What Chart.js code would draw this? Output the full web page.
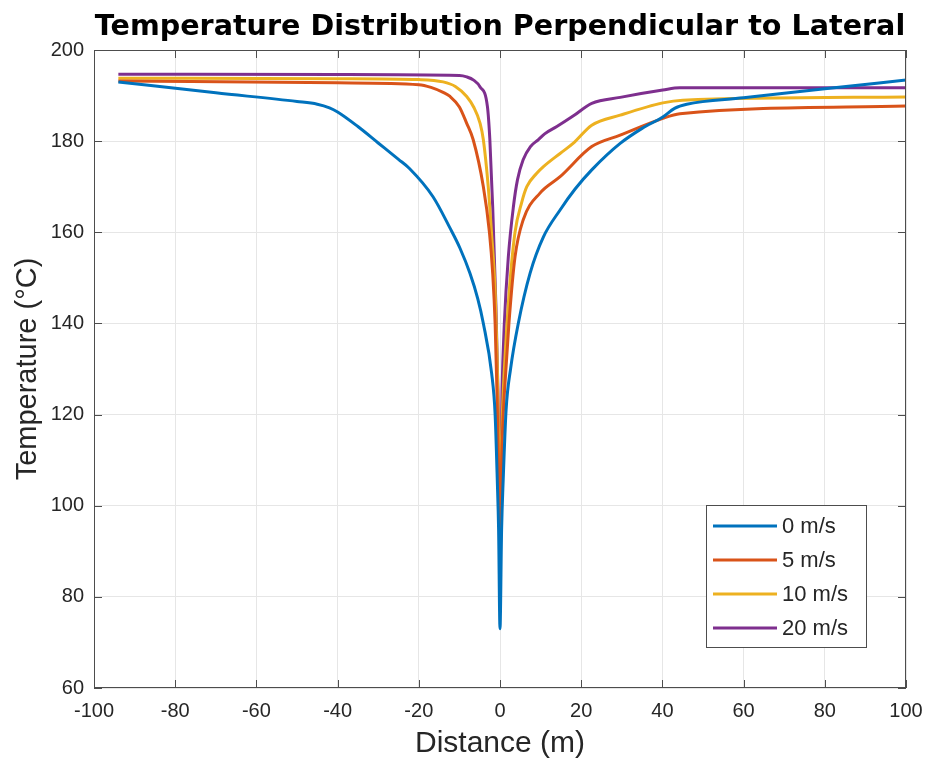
<!DOCTYPE html>
<html>
<head>
<meta charset="utf-8">
<script src="https://cdn.jsdelivr.net/npm/chart.js@4.4.1/dist/chart.umd.min.js"></script>
<style>
  html, body { margin: 0; padding: 0; background: #fff; }
  #wrap { width: 928px; height: 762px; position: relative; }
</style>
</head>
<body>
<div id="wrap"><canvas id="c" width="928" height="762"></canvas></div>
<script>
/* Temperature Distribution Perpendicular to Lateral — MATLAB-look line plot */

const LABELS = ['0 m/s', '5 m/s', '10 m/s', '20 m/s'];
const COLORS = ['#0072BD', '#D95319', '#EDB120', '#7E2F8E'];

// 0 m/s
const X0 = [-94, -70, -50, -45, -42, -40, -35, -30, -25, -22.3, -16.5, -12.3, -9.85, -7.4, -5.5, -4.1, -2.05, -1.2, -0.65, -0.35, 0,
            0.4, 0.8, 1.5, 2.6, 4.5, 7.4, 10.7, 14.8, 18.5, 22.6, 29.6, 35, 40.1, 43, 46, 60, 80, 100];
const Y0 = [193, 190.6, 188.7, 188.1, 187.3, 186.4, 183.2, 179.6, 176, 174, 167.8, 160.9, 156.5, 151, 145.5, 140, 129, 120, 105, 95, 73,
            95, 106, 121, 130, 140, 151, 159, 164.9, 169.5, 173.7, 179.5, 182.8, 185.3, 187.2, 188.1, 189.5, 191.5, 193.4];

// 5 m/s
const X5 = [-94, -40, -20, -17, -14, -12.3, -10, -8.2, -6.6, -4.1, -2.6, -1.8, -1.2, -0.75, -0.4, -0.15, 0,
            0.15, 0.4, 0.7, 1.1, 2.2, 3.7, 5.7, 9.85, 14.8, 22.6, 29.6, 40.1, 44.3, 100];
const Y5 = [193.2, 192.8, 192.4, 191.8, 190.7, 189.8, 187.5, 183.9, 180.3, 170, 160, 151, 140, 125, 110, 95, 81.5,
            95, 110, 118, 125, 140, 154.6, 162.7, 168.6, 172.2, 178.8, 181.3, 185, 186, 187.7];

// 10 m/s
const X10 = [-94, -40, -20, -14, -11, -8.2, -6.5, -4.9, -4.1, -2.9, -2.1, -1.2, -0.7, -0.35, -0.12, 0,
             0.12, 0.4, 0.8, 1.2, 2.3, 3.7, 5.3, 6.6, 9.0, 10.7, 14.8, 18, 22.6, 29.6, 40.1, 45, 100];
const Y10 = [193.8, 193.7, 193.5, 193, 192, 189.8, 187.5, 183.9, 180.3, 170, 160, 147.3, 132, 115, 100, 85.5,
             100, 115, 125, 132, 147.3, 160, 166.4, 170, 172.9, 174.4, 177.3, 179.5, 183.5, 185.7, 188.4, 189, 189.7];

// 20 m/s
const X20 = [-94, -40, -10, -8.2, -6.5, -4.9, -3.1, -2.5, -1.8, -1.0, -0.5, -0.2, 0,
             0.2, 0.5, 1.07, 2.05, 3.3, 4.3, 5.7, 7.5, 9.4, 11, 14, 18, 22.6, 29.6, 40.1, 44.3, 100];
const Y20 = [194.7, 194.6, 194.4, 194.1, 193.4, 191.9, 187.6, 180.3, 165.6, 143.7, 125, 108, 91,
             108, 125, 140, 154.6, 165.6, 171.5, 175.9, 178.8, 180.3, 181.6, 183.2, 185.5, 188.3, 189.6, 191.2, 191.7, 191.7];

const X_TICKS = [-100, -80, -60, -40, -20, 0, 20, 40, 60, 80, 100];
const Y_TICKS = [60, 80, 100, 120, 140, 160, 180, 200];

const FONT = "'Liberation Sans', Arial, Helvetica, sans-serif";
const TITLE_FONT = "'DejaVu Sans', 'Liberation Sans', Arial, sans-serif";
const INK = '#262626';
const AXIS = '#4d4d4d';
const GRID = '#e6e6e6';

const pts = (xs, ys) => xs.map((x, i) => ({ x, y: ys[i] }));
const SERIES = [pts(X0, Y0), pts(X5, Y5), pts(X10, Y10), pts(X20, Y20)];

// box, inward ticks and inside legend, drawn the way MATLAB does it
const matlabAxes = {
  id: 'matlabAxes',
  afterDatasetsDraw(chart) {
    const { ctx, chartArea: a, scales: { x, y } } = chart;
    ctx.save();
    ctx.strokeStyle = AXIS;
    ctx.lineWidth = 1;
    ctx.strokeRect(a.left + 0.5, a.top + 0.5, a.right - a.left - 1, a.bottom - a.top - 1);
    const T = 8;
    ctx.beginPath();
    X_TICKS.forEach((v) => {
      const px = Math.round(x.getPixelForValue(v)) + 0.5;
      ctx.moveTo(px, a.bottom); ctx.lineTo(px, a.bottom - T);
      ctx.moveTo(px, a.top); ctx.lineTo(px, a.top + T);
    });
    Y_TICKS.forEach((v) => {
      const py = Math.round(y.getPixelForValue(v)) + 0.5;
      ctx.moveTo(a.left, py); ctx.lineTo(a.left + T, py);
      ctx.moveTo(a.right, py); ctx.lineTo(a.right - T, py);
    });
    ctx.stroke();

    // legend, lower right inside axes
    const bx = a.right - 200, by = a.bottom - 183, bw = 160, bh = 142;
    ctx.fillStyle = '#fff';
    ctx.fillRect(bx, by, bw, bh);
    ctx.strokeStyle = AXIS;
    ctx.strokeRect(bx + 0.5, by + 0.5, bw, bh);
    ctx.font = '22px ' + FONT;
    ctx.textBaseline = 'middle';
    ctx.fillStyle = INK;
    LABELS.forEach((lab, i) => {
      const ry = by + 21 + i * 34;
      ctx.strokeStyle = COLORS[i];
      ctx.lineWidth = 3;
      ctx.beginPath();
      ctx.moveTo(bx + 7, ry); ctx.lineTo(bx + 71, ry);
      ctx.stroke();
      ctx.fillText(lab, bx + 76, ry + 1);
    });
    ctx.restore();
  },
};

new Chart(document.getElementById('c'), {
  type: 'scatter',
  data: {
    datasets: SERIES.map((d, i) => ({
      label: LABELS[i],
      data: d,
      showLine: true,
      borderColor: COLORS[i],
      backgroundColor: COLORS[i],
      borderWidth: 3,
      pointRadius: 0,
      cubicInterpolationMode: 'monotone',
    })),
  },
  options: {
    responsive: false,
    animation: false,
    layout: { padding: { left: 0, right: 22, top: 0, bottom: 0 } },
    plugins: {
      legend: { display: false },
      tooltip: { enabled: false },
      title: {
        display: true,
        fullSize: false, // centre over the axes, as MATLAB does
        text: 'Temperature Distribution Perpendicular to Lateral',
        color: '#000',
        font: { family: TITLE_FONT, size: 28.6, weight: 'bold', lineHeight: 1.2 },
        padding: { top: 10.5, bottom: 5.18 },
      },
    },
    scales: {
      x: {
        type: 'linear', min: -100, max: 100,
        afterBuildTicks: (s) => { s.ticks = X_TICKS.map((v) => ({ value: v })); },
        afterFit: (s) => { s.height = 74; s.paddingLeft = 0; s.paddingRight = 0; },
        grid: { color: GRID, drawTicks: false },
        border: { display: false },
        ticks: { color: INK, font: { family: FONT, size: 20 }, padding: 11, maxRotation: 0 },
        title: { display: true, text: 'Distance (m)', color: INK,
          font: { family: FONT, size: 30, lineHeight: 1.2 }, padding: { top: 0, bottom: 0 } },
      },
      y: {
        type: 'linear', min: 60, max: 200,
        afterBuildTicks: (s) => { s.ticks = Y_TICKS.map((v) => ({ value: v })); },
        afterFit: (s) => { s.width = 94; },
        grid: { color: GRID, drawTicks: false },
        border: { display: false },
        ticks: { color: INK, font: { family: FONT, size: 20 }, padding: 10 },
        title: { display: true, text: 'Temperature (°C)', color: INK,
          font: { family: FONT, size: 29, lineHeight: 1.2 }, padding: { top: 11, bottom: 0 } },
      },
    },
  },
  plugins: [matlabAxes],
});
</script>
</body>
</html>
